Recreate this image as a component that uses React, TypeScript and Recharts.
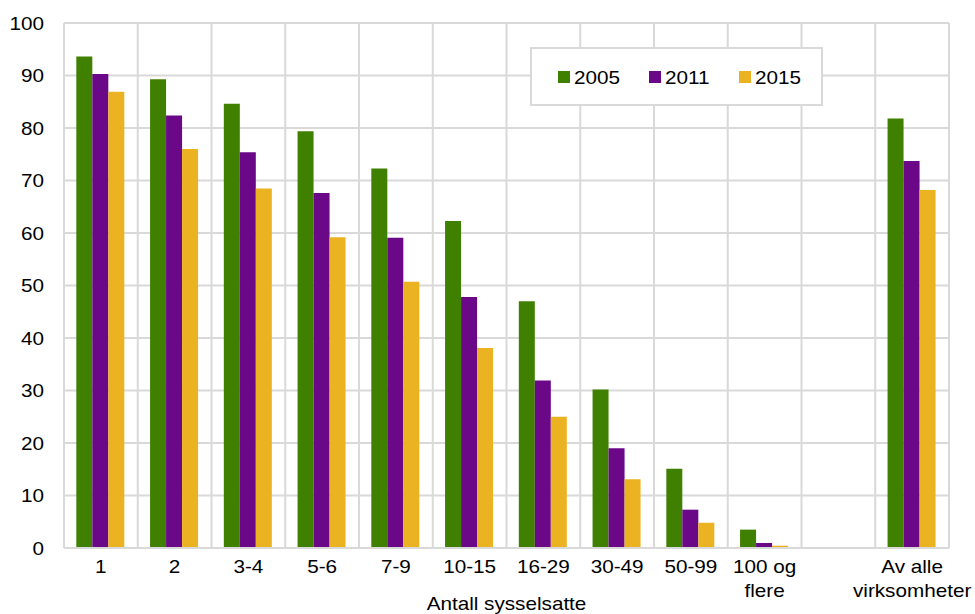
import React from 'react';
import { BarChart, Bar, XAxis, YAxis, CartesianGrid, Legend, Label } from 'recharts';

const categories = ['1', '2', '3-4', '5-6', '7-9', '10-15', '16-29', '30-49', '50-99', '100 og\nflere', '', 'Av alle\nvirksomheter'];
const values2005 = [93.6, 89.3, 84.6, 79.4, 72.3, 62.3, 47.0, 30.2, 15.1, 3.5, null, 81.8];
const values2011 = [90.3, 82.4, 75.4, 67.6, 59.1, 47.8, 31.9, 19.0, 7.3, 0.95, null, 73.7];
const values2015 = [86.9, 76.0, 68.5, 59.2, 50.7, 38.1, 25.0, 13.1, 4.8, 0.44, null, 68.2];
const yTicks = [0, 10, 20, 30, 40, 50, 60, 70, 80, 90, 100];
const seriesNames = ['2005', '2011', '2015'];
const seriesColors = ['#3F8000', '#6A0888', '#EBB322'];
const xAxisTitle = 'Antall sysselsatte';

const data = categories.map((c, i) => ({
  name: c,
  '2005': values2005[i],
  '2011': values2011[i],
  '2015': values2015[i],
}));

const FONT = '"Liberation Sans", Arial, sans-serif';
const GRID = '#D9D9D9';
const SX = 1.15;

const XTick = (props: any) => {
  const { x, y, payload } = props;
  const lines = String(payload.value).split('\n');
  return (
    <g>
      {lines.map((ln, i) => (
        <text
          key={i}
          transform={`translate(${x},${y + 13 + i * 24}) scale(${SX},1)`}
          textAnchor="middle"
          fontFamily={FONT}
          fontSize={18}
          fill="#000"
        >
          {ln}
        </text>
      ))}
    </g>
  );
};

const YTick = (props: any) => {
  const { x, y, payload } = props;
  return (
    <text
      transform={`translate(${x},${y + 6.5}) scale(${SX},1)`}
      textAnchor="end"
      fontFamily={FONT}
      fontSize={18}
      fill="#000"
    >
      {payload.value}
    </text>
  );
};

const LegendBox = (props: any) => {
  const payload = props.payload || [];
  return (
    <div
      style={{
        position: 'relative',
        width: 293,
        height: 59,
        boxSizing: 'border-box',
        border: `2px solid ${GRID}`,
        background: '#fff',
      }}
    >
      {payload.map((p: any, i: number) => (
        <div key={i} style={{ position: 'absolute', left: 26 + i * 90.5, top: 21, height: 14 }}>
          <div style={{ position: 'absolute', left: 0, top: 1, width: 12, height: 12, background: p.color }} />
          <svg style={{ position: 'absolute', left: 16, top: -6, overflow: 'visible' }} width={60} height={26}>
            <text
              transform={`translate(0,20) scale(${SX},1)`}
              fontFamily={FONT}
              fontSize={18}
              fill="#000"
            >
              {p.value}
            </text>
          </svg>
        </div>
      ))}
    </div>
  );
};

const vertGen = (props: any) => {
  const off = props.offset || { left: 64, width: 885 };
  const n = categories.length;
  const out: number[] = [];
  for (let i = 0; i <= n; i++) out.push(off.left + (i * off.width) / n);
  return out;
};

export default function App() {
  return (
    <div style={{ position: 'absolute', left: 0, top: 0, width: 975, height: 614, background: '#fff' }}>
      <BarChart
        width={975}
        height={614}
        data={data}
        margin={{ top: 23, right: 26, left: 0, bottom: 0 }}
        barCategoryGap="16.7%"
        barGap={0}
      >
        <CartesianGrid stroke={GRID} strokeWidth={2} verticalCoordinatesGenerator={vertGen} />
        <XAxis
          dataKey="name"
          height={66}
          interval={0}
          tickLine={false}
          tickSize={6}
          tickMargin={6}
          axisLine={{ stroke: GRID, strokeWidth: 2 }}
          tick={<XTick />}
        >
          <Label
            content={(lp: any) => {
              const vb = lp.viewBox || { x: 64, y: 548, width: 885, height: 66 };
              return (
                <text
                  transform={`translate(${vb.x + vb.width / 2},${vb.y + vb.height - 4}) scale(${SX},1)`}
                  textAnchor="middle"
                  fontFamily={FONT}
                  fontSize={18}
                  fill="#000"
                >
                  {xAxisTitle}
                </text>
              );
            }}
          />
        </XAxis>
        <YAxis
          width={64}
          domain={[0, 100]}
          ticks={yTicks}
          interval={0}
          tickLine={false}
          tickSize={6}
          tickMargin={14}
          axisLine={{ stroke: GRID, strokeWidth: 2 }}
          tick={<YTick />}
        />
        <Legend
          layout="horizontal"
          verticalAlign="middle"
          align="center"
          content={<LegendBox />}
          wrapperStyle={{ left: 530, top: 47, width: 293, height: 59 }}
        />
        {seriesNames.map((s, i) => (
          <Bar key={s} dataKey={s} name={s} fill={seriesColors[i]} isAnimationActive={false} />
        ))}
      </BarChart>
    </div>
  );
}
